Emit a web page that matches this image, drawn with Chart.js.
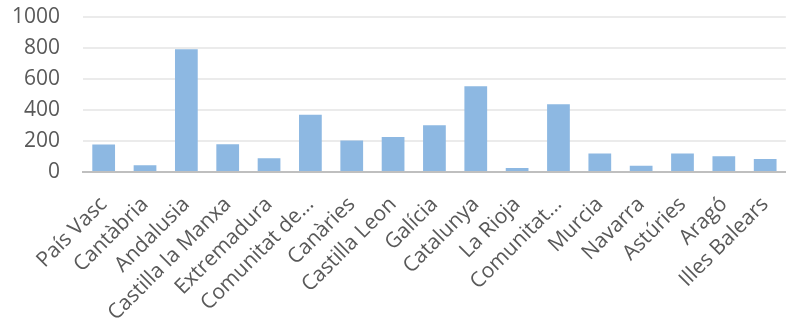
<!DOCTYPE html>
<html>
<head>
<meta charset="utf-8">
<script src="https://cdn.jsdelivr.net/npm/chart.js@4"></script>
<style>
  html, body { margin: 0; padding: 0; background: #fff; }
  #wrap { width: 795px; height: 327px; }
</style>
</head>
<body>
<div id="wrap"><canvas id="c"></canvas></div>
<script>
// regions and counts
var regions = ['País Vasc', 'Cantàbria', 'Andalusia', 'Castilla la Manxa', 'Extremadura',
  'Comunitat de...', 'Canàries', 'Castilla Leon', 'Galícia', 'Catalunya', 'La Rioja',
  'Comunitat...', 'Murcia', 'Navarra', 'Astúries', 'Aragó', 'Illes Balears'];
var counts = [177, 43, 792, 179, 88, 370, 204, 226, 301, 553, 26, 437, 119, 41, 119, 101, 84];
var yTicks = [0, 200, 400, 600, 800, 1000];

var font = { family: '"Open Sans", sans-serif', size: 21 };

new Chart(document.getElementById('c'), {
  type: 'bar',
  data: {
    labels: regions,
    datasets: [{
      data: counts,
      backgroundColor: '#8db8e2',
      barPercentage: 0.55,
      categoryPercentage: 1
    }]
  },
  options: {
    responsive: true,
    maintainAspectRatio: false,
    animation: false,
    layout: { padding: 0 },
    plugins: { legend: { display: false }, tooltip: { enabled: false } },
    scales: {
      x: {
        grid: { display: false },
        border: { color: '#bfbfbf', width: 2 },
        ticks: { color: '#595959', font: font, minRotation: 45, maxRotation: 45, autoSkip: false, padding: 12 },
        afterFit: function(s) { s.height = 155; }
      },
      y: {
        min: 0,
        max: 1000,
        afterBuildTicks: function(axis) { axis.ticks = yTicks.map(function(v) { return { value: v }; }); },
        grid: { color: '#ebebeb', lineWidth: 2, drawTicks: false },
        border: { display: false },
        ticks: { color: '#595959', font: font, padding: 23, autoSkip: false, callback: function(v) { return String(v); } },
        afterFit: function(s) { s.width = 83; s.paddingTop = 17; }
      }
    }
  }
});
</script>
</body>
</html>
